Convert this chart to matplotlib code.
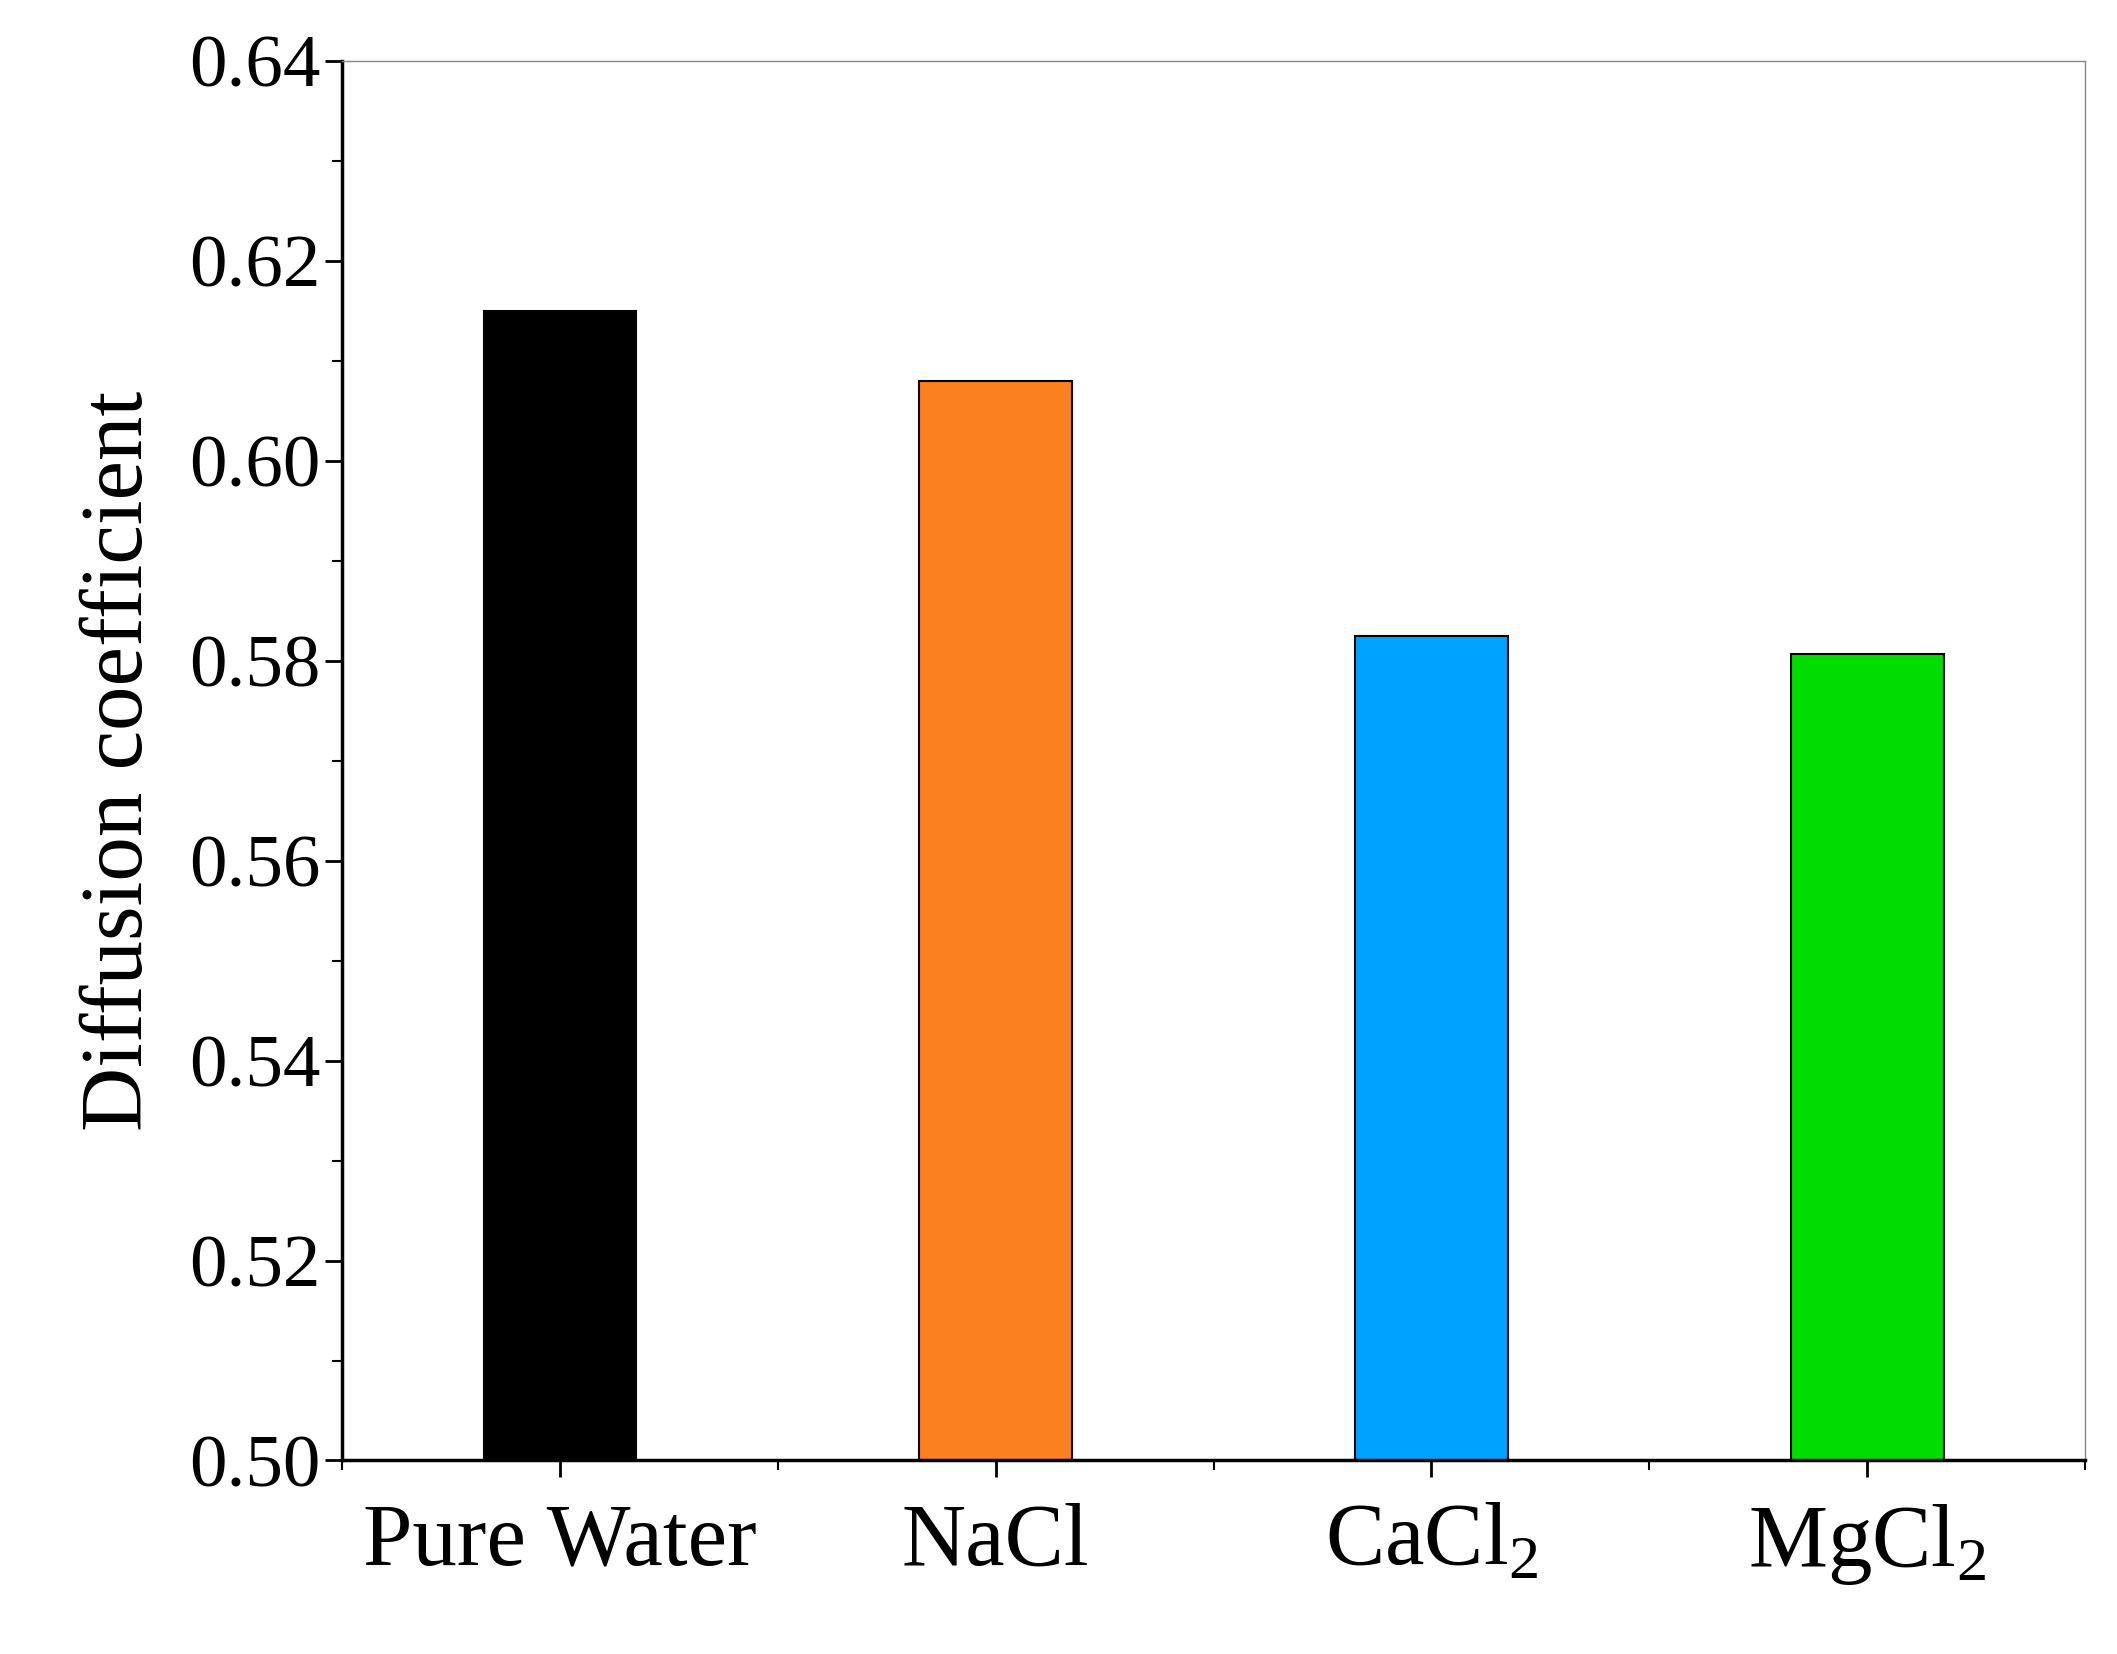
import matplotlib
matplotlib.use("Agg")
import matplotlib.pyplot as plt
from matplotlib.ticker import MultipleLocator

plt.rcParams["font.family"] = "Liberation Serif"
plt.rcParams["mathtext.fontset"] = "custom"
plt.rcParams["mathtext.rm"] = "Liberation Serif"

# ---------------- DATA ----------------
categories = ["Pure Water", "NaCl", r"CaCl$_2$", r"MgCl$_2$"]
values = [0.615, 0.608, 0.5825, 0.5807]
colors = ["#000000", "#fb8020", "#00a2ff", "#00dd00"]

# ---------------- CHART ----------------
fig = plt.figure(figsize=(21.17, 16.54), dpi=100)
ax = fig.add_axes([0.1615, 0.117, 0.8235, 0.846])

x = list(range(1, len(categories) + 1))
ax.bar(x, values, width=0.35, color=colors, edgecolor="black", linewidth=1.5)

ax.set_xlim(0.5, 4.5)
ax.set_ylim(0.50, 0.64)
ax.set_xticks(x)
ax.set_xticklabels(categories, fontsize=64)
ax.xaxis.set_minor_locator(MultipleLocator(0.5))
ax.yaxis.set_major_locator(MultipleLocator(0.02))
ax.yaxis.set_minor_locator(MultipleLocator(0.01))
ax.set_yticklabels([f"{v:.2f}" for v in ax.get_yticks()], fontsize=54)
ax.set_ylabel("Diffusion coefficient", fontsize=64, labelpad=20)

ax.tick_params(which="major", direction="out", length=12, width=2)
ax.tick_params(which="minor", direction="out", length=7, width=1.5)
ax.tick_params(axis="x", pad=18)
for s in ["left", "bottom"]:
    ax.spines[s].set_linewidth(2.5)
for s in ["top", "right"]:
    ax.spines[s].set_linewidth(1)
    ax.spines[s].set_color("#888888")

fig.savefig("out.png", dpi=100)
plt.close(fig)
